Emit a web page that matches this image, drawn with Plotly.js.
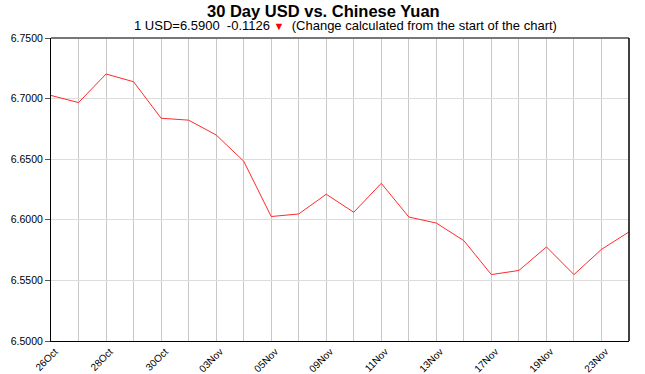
<!DOCTYPE html>
<html>
<head>
<meta charset="utf-8">
<script src="https://cdn.plot.ly/plotly-3.0.1.min.js"></script>
<style>html,body{margin:0;padding:0;background:#fff;}#chart{width:645px;height:374px;}</style>
</head>
<body>
<div id="chart"></div>
<script>
const dates = ["26Oct","27Oct","28Oct","29Oct","30Oct","02Nov","03Nov","04Nov","05Nov","06Nov","09Nov","10Nov","11Nov","12Nov","13Nov","16Nov","17Nov","18Nov","19Nov","20Nov","23Nov","24Nov"];
const rates = [6.7026,6.6967,6.7203,6.7139,6.6838,6.6822,6.6700,6.6484,6.6027,6.6048,6.6211,6.6062,6.6301,6.6023,6.5973,6.5828,6.5548,6.5582,6.5776,6.5548,6.5756,6.5900];
const titleText = "30 Day USD vs. Chinese Yuan";
const subtitleText = '1 USD=6.5900  -0.1126 <span style="color:#ff0000;font-size:11px">▼</span>  (Change calculated from the start of the chart)';
const yTicks = [6.50,6.55,6.60,6.65,6.70,6.75];

const idx = dates.map((d,i)=>i);
const tickText = dates.map((d,i)=> i%2===0 ? d : "");

const trace = {
  x: idx, y: rates, type: 'scatter', mode: 'lines',
  line: {color: '#ff2a2a', width: 1},
  hoverinfo: 'skip'
};

const layout = {
  width: 645, height: 374,
  margin: {l: 51, r: 16, t: 38, b: 33, pad: 0},
  paper_bgcolor: '#fff', plot_bgcolor: '#fff',
  font: {family: '"Liberation Sans", Arial, sans-serif', color: '#000'},
  showlegend: false,
  xaxis: {
    range: [0, dates.length-1],
    tickvals: idx, ticktext: tickText,
    tickangle: -45,
    tickfont: {size: 10, color: '#000'},
    showgrid: true, gridcolor: '#c8c8c8', gridwidth: 1,
    zeroline: false,
    showline: true, linecolor: '#000', linewidth: 1, mirror: false,
    ticks: '', ticklabelshift: 4, ticklabelstandoff: 0,
    automargin: false
  },
  yaxis: {
    range: [6.5, 6.75],
    tickvals: yTicks, ticktext: yTicks.map(v=>v.toFixed(4)),
    tickfont: {size: 10.5, color: '#000'},
    showgrid: true, gridcolor: '#dcdcdc', gridwidth: 1,
    zeroline: false,
    showline: true, linecolor: '#000', linewidth: 1,
    ticks: 'outside', ticklen: 5, tickcolor: '#555', tickwidth: 1,
    automargin: false
  },
  shapes: [
    {type:'line', xref:'paper', yref:'paper', x0:0, x1:1, y0:1, y1:1, line:{color:'#777', width:2}},
    {type:'line', xref:'paper', yref:'paper', x0:1, x1:1, y0:0, y1:1, line:{color:'#000', width:1.5}}
  ],
  annotations: [
    {text: '<b>' + titleText + '</b>', xref:'paper', yref:'paper', x: (323-51)/578, y: 1, yshift: 27,
     xanchor:'center', yanchor:'middle', showarrow:false, font:{size:16.5, color:'#000'}},
    {text: subtitleText, xref:'paper', yref:'paper', x: (345-51)/578, y: 1, yshift: 13,
     xanchor:'center', yanchor:'middle', showarrow:false, font:{size:13, color:'#000'}}
  ]
};

Plotly.newPlot('chart', [trace], layout, {displayModeBar: false, staticPlot: true});
</script>
</body>
</html>
